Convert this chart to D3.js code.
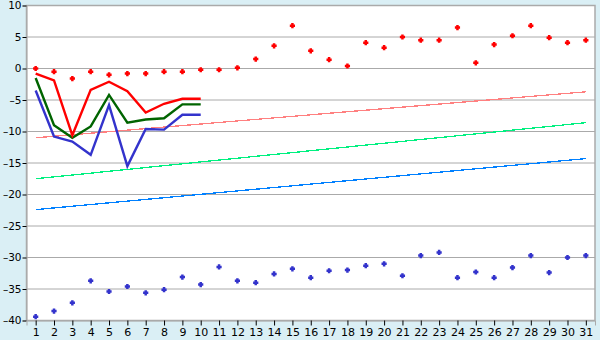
<!DOCTYPE html>
<html><head><meta charset="utf-8">
<script src="https://cdn.jsdelivr.net/npm/d3@7"></script>
<style>body{margin:0;background:#daeff5;} svg{display:block;}</style>
</head><body><svg id="c" width="600" height="340"></svg>
<script>
const days = d3.range(1, 32);
const redPoints = [0,-0.5,-1.6,-0.5,-1.0,-0.8,-0.8,-0.5,-0.5,-0.2,-0.2,0.1,1.5,3.6,6.8,2.8,1.4,0.4,4.1,3.3,5.0,4.5,4.5,6.5,0.9,3.8,5.2,6.8,4.9,4.1,4.5];
const bluePoints = [-39.4,-38.5,-37.2,-33.7,-35.4,-34.6,-35.6,-35.1,-33.1,-34.3,-31.5,-33.7,-34.0,-32.6,-31.8,-33.2,-32.1,-32.0,-31.3,-31.0,-32.9,-29.7,-29.2,-33.2,-32.3,-33.2,-31.6,-29.7,-32.4,-30.0,-29.7];
const lineDays = d3.range(1, 11);
const redLine = [-0.8,-1.9,-10.6,-3.4,-2.1,-3.6,-7.0,-5.6,-4.8,-4.8];
const greenLine = [-1.5,-9.0,-11.0,-9.2,-4.2,-8.6,-8.1,-7.9,-5.7,-5.7];
const blueLine = [-3.5,-10.8,-11.6,-13.7,-5.8,-15.5,-9.6,-9.7,-7.35,-7.35];
const trendDays = [1, 31];
const pinkTrend = [-11.0, -3.7];
const greenTrend = [-17.5, -8.6];
const blueTrend = [-22.4, -14.3];
const yTicks = [10,5,0,-5,-10,-15,-20,-25,-30,-35,-40];

const svg = d3.select("#c");
const x = d3.scaleLinear().domain([0.5, 31.5]).range([26.5, 595]);
const y = d3.scaleLinear().domain([-40, 10]).range([320.5, 5.5]);

svg.append("rect").attr("x", 26.5).attr("y", 5.5).attr("width", 568.5).attr("height", 315)
  .attr("fill", "#fff").attr("stroke", "#aaa").attr("stroke-width", 1.5);

svg.append("g").selectAll("line").data(yTicks).join("line")
  .attr("x1", 26.5).attr("x2", 595).attr("y1", d => y(d)).attr("y2", d => y(d))
  .attr("stroke", "#aaa").attr("stroke-width", 1);

const font = "DejaVu Sans, Verdana, sans-serif";
const yAxis = d3.axisLeft(y).tickValues(yTicks).tickSize(4).tickPadding(1)
  .tickFormat(d => d < 0 ? "\u2013" + Math.abs(d) : d);
const gy = svg.append("g").attr("transform", "translate(26.5,0)").call(yAxis);
gy.select(".domain").attr("stroke", "#aaa");
gy.selectAll(".tick line").attr("stroke", "#000");
gy.selectAll("text").attr("font-family", font).attr("font-size", 10.5).attr("fill", "#000");

const xAxis = d3.axisBottom(x).tickValues(days).tickSize(5).tickPadding(3).tickFormat(d3.format("d"));
const gx = svg.append("g").attr("transform", "translate(0,320.5)").call(xAxis);
gx.select(".domain").attr("stroke", "#aaa");
gx.selectAll(".tick line").attr("stroke", "#000");
gx.selectAll("text").attr("font-family", font).attr("font-size", 11).attr("fill", "#000");

const line = d3.line().x(d => x(d[0])).y(d => y(d[1]));
function drawLine(xs, ys, color, w, crisp) {
  svg.append("path").datum(xs.map((d, i) => [d, ys[i]])).attr("d", line)
    .attr("fill", "none").attr("stroke", color).attr("stroke-width", w)
    .attr("shape-rendering", crisp ? "crispEdges" : "auto");
}
drawLine(trendDays, pinkTrend, "#ff8080", 1.3, true);
drawLine(trendDays, greenTrend, "#00f080", 1.3, true);
drawLine(trendDays, blueTrend, "#0080ff", 1.3, true);
drawLine(lineDays, blueLine, "#3333cc", 2.4, false);
drawLine(lineDays, greenLine, "#006400", 2.4, false);
drawLine(lineDays, redLine, "#ff0000", 2.4, false);

// rounded plus marker: 5px wide, ~2.5px thick arms
const plus = { draw(ctx) {
  const a = 2.6, b = 1.25;
  ctx.moveTo(-b, -a); ctx.lineTo(b, -a); ctx.lineTo(b, -b); ctx.lineTo(a, -b);
  ctx.lineTo(a, b); ctx.lineTo(b, b); ctx.lineTo(b, a); ctx.lineTo(-b, a);
  ctx.lineTo(-b, b); ctx.lineTo(-a, b); ctx.lineTo(-a, -b); ctx.lineTo(-b, -b); ctx.closePath();
} };
const sym = d3.symbol().type(plus);
svg.append("g").selectAll("path").data(redPoints).join("path")
  .attr("transform", (d, i) => `translate(${x(days[i])},${y(d)})`).attr("d", sym).attr("fill", "#ff0000");
svg.append("g").selectAll("path").data(bluePoints).join("path")
  .attr("transform", (d, i) => `translate(${x(days[i])},${y(d)})`).attr("d", sym).attr("fill", "#3333cc");
</script></body></html>
